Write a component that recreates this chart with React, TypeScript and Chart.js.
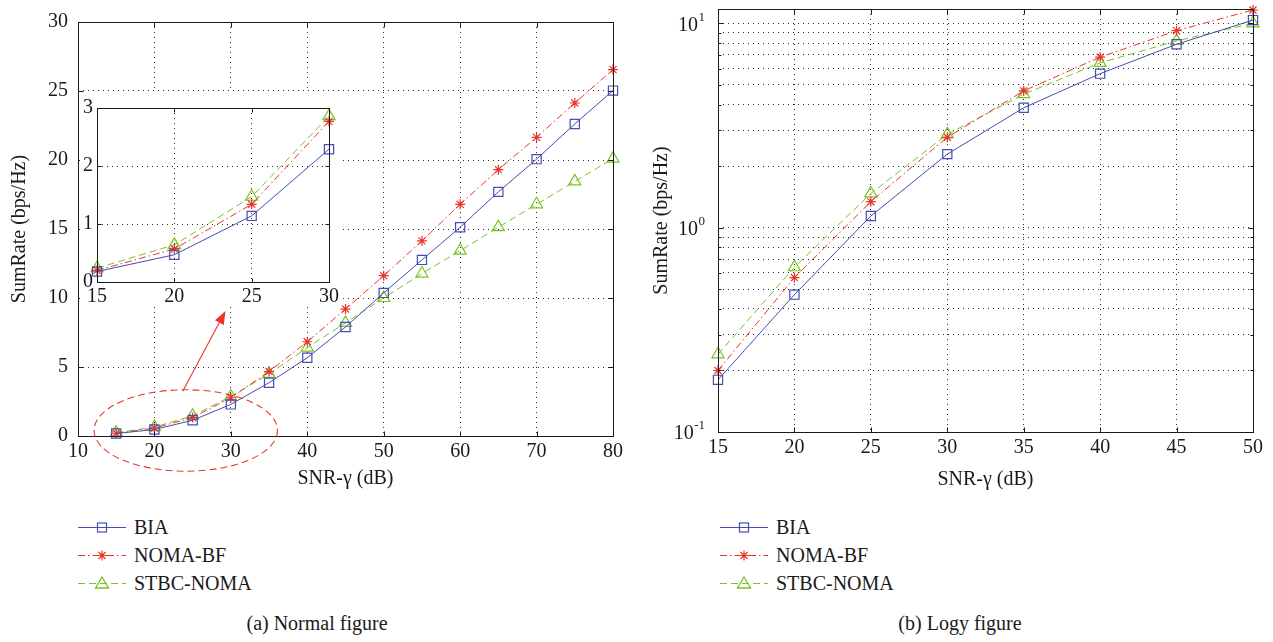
import React, { useEffect, useRef } from "react";
import { Chart, registerables } from "chart.js";

Chart.register(...registerables);

// ---------------- data ----------------
const snr = [15, 20, 25, 30, 35, 40, 45, 50, 55, 60, 65, 70, 75, 80];
const bia = [0.18, 0.47, 1.14, 2.29, 3.86, 5.67, 7.9, 10.37, 12.76, 15.13, 17.69, 20.06, 22.61, 25.03];
const nomaBf = [0.2, 0.57, 1.34, 2.77, 4.67, 6.83, 9.2, 11.62, 14.14, 16.79, 19.3, 21.64, 24.13, 26.55];
const stbcNoma = [0.24, 0.64, 1.47, 2.86, 4.5, 6.4, 8.2, 10.0, 11.77, 13.43, 15.13, 16.79, 18.45, 20.1];

const seriesNames = ["BIA", "NOMA-BF", "STBC-NOMA"];

const normalXTicks = [10, 20, 30, 40, 50, 60, 70, 80];
const normalYTicks = [0, 5, 10, 15, 20, 25, 30];
const insetXTicks = [15, 20, 25, 30];
const insetYTicks = [0, 1, 2, 3];
const logyXTicks = [15, 20, 25, 30, 35, 40, 45, 50];
const logyYTicks = [0.1, 0.2, 0.3, 0.4, 0.5, 0.6, 0.7, 0.8, 0.9, 1, 2, 3, 4, 5, 6, 7, 8, 9, 10];
const logyDecades = [0.1, 1, 10];
const insetCount = 4;
const logyCount = 8;

const xTitle = "SNR-γ (dB)";
const yTitle = "SumRate (bps/Hz)";
const captionA = "(a) Normal figure";
const captionB = "(b) Logy figure";

// zoom annotation in data units of the normal chart
const zoomEllipse = { cx: 24.1, cy: 0.4, rx: 12, ry: 2.95 };
const zoomArrow = { x0: 23.7, y0: 3.25, x1: 29.3, y1: 9.05 };

// ---------------- styles ----------------
const FONT = '"Liberation Serif", "Times New Roman", serif';
const TEXT = "#1a1a1a";
const GRID = "#2a2a2a";
const FRAME = "#1a1a1a";
const seriesColors = ["#464db2", "#e8352b", "#79c424"];
const seriesDash = [[], [7, 3, 1.5, 3], [7, 4]];
const seriesMarker = ["rect", "star", "triangle"];
const seriesRadius = [6.5, 5, 7];

function buildDatasets(count: number) {
  const values = [bia, nomaBf, stbcNoma];
  return values.map((vals, i) => ({
    label: seriesNames[i],
    data: snr.slice(0, count).map((x, j) => ({ x, y: vals[j] })),
    borderColor: seriesColors[i],
    borderWidth: 1,
    borderDash: seriesDash[i],
    pointStyle: seriesMarker[i],
    pointRadius: seriesRadius[i],
    pointBorderWidth: 1.2,
    pointBorderColor: seriesColors[i],
    pointBackgroundColor: "rgba(0,0,0,0)",
    fill: false,
    tension: 0,
    clip: false,
  }));
}

function tickSetter(values: number[]) {
  return (s: any) => {
    s.ticks = values.map((v) => ({ value: v }));
  };
}

function baseAxis(opts: any) {
  return {
    grid: { color: GRID, lineWidth: 1, drawTicks: false },
    border: { display: false, dash: [1, 4] },
    ...opts,
  };
}

const bgPlugin = {
  id: "bg",
  beforeDraw(chart: any) {
    const { ctx, width, height } = chart;
    ctx.save();
    ctx.fillStyle = "#ffffff";
    ctx.fillRect(0, 0, width, height);
    ctx.restore();
  },
};

function makeFramePlugin(len: number, minorLen: number, majorY: number[] | null) {
  return {
    id: "frame",
    afterDraw(chart: any) {
      const { ctx, chartArea: a, scales } = chart;
      const L = Math.round(a.left) + 0.5;
      const R = Math.round(a.right) + 0.5;
      const T = Math.round(a.top) + 0.5;
      const B = Math.round(a.bottom) + 0.5;
      ctx.save();
      ctx.setLineDash([]);
      ctx.strokeStyle = FRAME;
      ctx.lineWidth = 1;
      ctx.beginPath();
      for (const t of scales.x.ticks) {
        const p = Math.round(scales.x.getPixelForValue(t.value)) + 0.5;
        ctx.moveTo(p, B);
        ctx.lineTo(p, B - len);
        ctx.moveTo(p, T);
        ctx.lineTo(p, T + len);
      }
      for (const t of scales.y.ticks) {
        const p = Math.round(scales.y.getPixelForValue(t.value)) + 0.5;
        const l = majorY && !majorY.includes(t.value) ? minorLen : len;
        ctx.moveTo(L, p);
        ctx.lineTo(L + l, p);
        ctx.moveTo(R, p);
        ctx.lineTo(R - l, p);
      }
      ctx.stroke();
      ctx.strokeRect(L, T, R - L, B - T);
      ctx.restore();
    },
  };
}

const zoomMarkPlugin = {
  id: "zoomMark",
  afterDraw(chart: any) {
    const { ctx, scales } = chart;
    const xs = scales.x;
    const ys = scales.y;
    const cx = xs.getPixelForValue(zoomEllipse.cx);
    const cy = ys.getPixelForValue(zoomEllipse.cy);
    const rx = xs.getPixelForValue(zoomEllipse.cx + zoomEllipse.rx) - cx;
    const ry = cy - ys.getPixelForValue(zoomEllipse.cy + zoomEllipse.ry);
    ctx.save();
    ctx.strokeStyle = "#e8352b";
    ctx.fillStyle = "#e8352b";
    ctx.lineWidth = 1.1;
    ctx.setLineDash([7, 4]);
    ctx.beginPath();
    ctx.ellipse(cx, cy, rx, ry, 0, 0, Math.PI * 2);
    ctx.stroke();
    ctx.setLineDash([]);
    const x0 = xs.getPixelForValue(zoomArrow.x0);
    const y0 = ys.getPixelForValue(zoomArrow.y0);
    const x1 = xs.getPixelForValue(zoomArrow.x1);
    const y1 = ys.getPixelForValue(zoomArrow.y1);
    const ang = Math.atan2(y1 - y0, x1 - x0);
    const hl = 13;
    const hw = 5;
    const bx = x1 - hl * Math.cos(ang);
    const by = y1 - hl * Math.sin(ang);
    ctx.beginPath();
    ctx.moveTo(x0, y0);
    ctx.lineTo(bx, by);
    ctx.stroke();
    ctx.beginPath();
    ctx.moveTo(x1, y1);
    ctx.lineTo(bx + hw * Math.sin(ang), by - hw * Math.cos(ang));
    ctx.lineTo(bx - hw * Math.sin(ang), by + hw * Math.cos(ang));
    ctx.closePath();
    ctx.fill();
    ctx.restore();
  },
};

const decadeLabelPlugin = {
  id: "decadeLabels",
  afterDraw(chart: any) {
    const { ctx, chartArea: a, scales } = chart;
    ctx.save();
    ctx.fillStyle = TEXT;
    ctx.textBaseline = "middle";
    for (const v of logyDecades) {
      const y = scales.y.getPixelForValue(v);
      const exp = String(Math.round(Math.log10(v)));
      ctx.font = `13px ${FONT}`;
      const ew = ctx.measureText(exp).width;
      const expRight = a.left - 13;
      ctx.textAlign = "left";
      ctx.fillText(exp, expRight - ew, y - 6);
      ctx.font = `20px ${FONT}`;
      ctx.textAlign = "right";
      ctx.fillText("10", expRight - ew - 0.5, y + 2);
    }
    ctx.restore();
  },
};

const tickFont = { family: FONT, size: 20 };
const titleFont = { family: FONT, size: 20 };

function normalConfig(): any {
  return {
    type: "line",
    data: { datasets: buildDatasets(snr.length) },
    options: {
      animation: false,
      responsive: false,
      devicePixelRatio: 1,
      layout: { padding: { top: 13, right: 27, left: 0, bottom: 0 } },
      plugins: { legend: { display: false }, tooltip: { enabled: false } },
      scales: {
        x: baseAxis({
          type: "linear",
          min: 10,
          max: 80,
          afterBuildTicks: tickSetter(normalXTicks),
          afterFit: (s: any) => {
            s.height = 64;
          },
          ticks: { autoSkip: false, maxRotation: 0, font: tickFont, color: TEXT, padding: 4 },
          title: { display: true, text: xTitle, font: titleFont, color: TEXT, padding: { top: 0, bottom: 9 } },
        }),
        y: baseAxis({
          type: "linear",
          min: 0,
          max: 30,
          afterBuildTicks: tickSetter(normalYTicks),
          afterFit: (s: any) => {
            s.width = 78;
          },
          ticks: { autoSkip: false, font: tickFont, color: TEXT, padding: 10 },
          title: { display: true, text: yTitle, font: titleFont, color: TEXT, padding: { top: 8, bottom: 0 } },
        }),
      },
    },
    plugins: [bgPlugin, makeFramePlugin(5, 5, null), zoomMarkPlugin],
  };
}

function insetConfig(): any {
  return {
    type: "line",
    data: { datasets: buildDatasets(insetCount) },
    options: {
      animation: false,
      responsive: false,
      devicePixelRatio: 1,
      layout: { padding: { top: 7, right: 10, left: 0, bottom: 0 } },
      plugins: { legend: { display: false }, tooltip: { enabled: false } },
      scales: {
        x: baseAxis({
          type: "linear",
          min: 15,
          max: 30,
          afterBuildTicks: tickSetter(insetXTicks),
          afterFit: (s: any) => {
            s.height = 25;
          },
          ticks: { autoSkip: false, maxRotation: 0, font: tickFont, color: TEXT, padding: 3 },
        }),
        y: baseAxis({
          type: "linear",
          min: 0,
          max: 3,
          afterBuildTicks: tickSetter(insetYTicks),
          afterFit: (s: any) => {
            s.width = 17;
          },
          ticks: { autoSkip: false, font: tickFont, color: TEXT, padding: 4 },
        }),
      },
    },
    plugins: [bgPlugin, makeFramePlugin(4, 4, null)],
  };
}

function logyConfig(): any {
  return {
    type: "line",
    data: { datasets: buildDatasets(logyCount) },
    options: {
      animation: false,
      responsive: false,
      devicePixelRatio: 1,
      layout: { padding: { top: 9, right: 20, left: 0, bottom: 0 } },
      plugins: { legend: { display: false }, tooltip: { enabled: false } },
      scales: {
        x: baseAxis({
          type: "linear",
          min: 15,
          max: 50,
          afterBuildTicks: tickSetter(logyXTicks),
          afterFit: (s: any) => {
            s.height = 68;
          },
          ticks: { autoSkip: false, maxRotation: 0, font: tickFont, color: TEXT, padding: 4 },
          title: { display: true, text: xTitle, font: titleFont, color: TEXT, padding: { top: 0, bottom: 8 } },
        }),
        y: baseAxis({
          type: "logarithmic",
          min: 0.1,
          max: 11.75,
          afterBuildTicks: tickSetter(logyYTicks),
          afterFit: (s: any) => {
            s.width = 78;
          },
          ticks: { display: false, autoSkip: false },
          title: { display: true, text: yTitle, font: titleFont, color: TEXT, padding: { top: 10, bottom: 0 } },
        }),
      },
    },
    plugins: [bgPlugin, makeFramePlugin(5, 3, logyDecades), decadeLabelPlugin],
  };
}

function ChartCanvas(props: { left: number; top: number; width: number; height: number; make: () => any }) {
  const ref = useRef<HTMLCanvasElement | null>(null);
  useEffect(() => {
    if (!ref.current) return;
    const chart = new Chart(ref.current, props.make());
    return () => chart.destroy();
  }, []);
  return (
    <canvas
      ref={ref}
      width={props.width}
      height={props.height}
      style={{
        position: "absolute",
        left: props.left,
        top: props.top,
        width: props.width,
        height: props.height,
      }}
    />
  );
}

function Marker(props: { kind: string; color: string; cx: number; cy: number }) {
  const { kind, color, cx, cy } = props;
  if (kind === "rect") {
    return <rect x={cx - 4.5} y={cy - 4.5} width={9} height={9} fill="none" stroke={color} strokeWidth={1.2} />;
  }
  if (kind === "star") {
    const r = 5;
    const d = r * Math.SQRT1_2;
    return (
      <path
        d={`M${cx - r} ${cy}H${cx + r}M${cx} ${cy - r}V${cy + r}M${cx - d} ${cy - d}L${cx + d} ${cy + d}M${cx - d} ${cy + d}L${cx + d} ${cy - d}`}
        stroke={color}
        strokeWidth={1.2}
        fill="none"
      />
    );
  }
  return (
    <polygon
      points={`${cx},${cy - 6.5} ${cx + 6.5},${cy + 4.5} ${cx - 6.5},${cy + 4.5}`}
      fill="none"
      stroke={color}
      strokeWidth={1.3}
    />
  );
}

function Legend(props: { sampleLeft: number; top: number }) {
  const rowH = 28;
  const sw = 48;
  return (
    <div style={{ position: "absolute", left: props.sampleLeft, top: props.top }}>
      {seriesNames.map((name, i) => (
        <div key={name} style={{ display: "flex", alignItems: "center", height: rowH }}>
          <svg width={sw} height={16} style={{ display: "block" }}>
            <line
              x1={0}
              y1={8.5}
              x2={sw}
              y2={8.5}
              stroke={seriesColors[i]}
              strokeWidth={1}
              strokeDasharray={seriesDash[i].length ? seriesDash[i].join(" ") : undefined}
            />
            <Marker kind={seriesMarker[i]} color={seriesColors[i]} cx={sw / 2} cy={8.5} />
          </svg>
          <span
            style={{
              marginLeft: 8,
              fontFamily: FONT,
              fontSize: 20,
              color: TEXT,
              lineHeight: `${rowH}px`,
              whiteSpace: "nowrap",
            }}
          >
            {name}
          </span>
        </div>
      ))}
    </div>
  );
}

function Caption(props: { cx: number; text: string }) {
  return (
    <div
      style={{
        position: "absolute",
        left: props.cx - 200,
        width: 400,
        top: 611,
        textAlign: "center",
        fontFamily: FONT,
        fontSize: 20,
        lineHeight: "24px",
        color: TEXT,
      }}
    >
      {props.text}
    </div>
  );
}

export default function App() {
  return (
    <div
      style={{
        position: "absolute",
        left: 0,
        top: 0,
        width: 1273,
        height: 642,
        background: "#ffffff",
        overflow: "hidden",
      }}
    >
      <ChartCanvas left={0} top={0} width={640} height={500} make={normalConfig} />
      <ChartCanvas left={80} top={92} width={262} height={215} make={insetConfig} />
      <ChartCanvas left={640} top={0} width={633} height={500} make={logyConfig} />
      <Legend sampleLeft={78} top={513} />
      <Legend sampleLeft={720} top={513} />
      <Caption cx={317} text={captionA} />
      <Caption cx={960} text={captionB} />
    </div>
  );
}
